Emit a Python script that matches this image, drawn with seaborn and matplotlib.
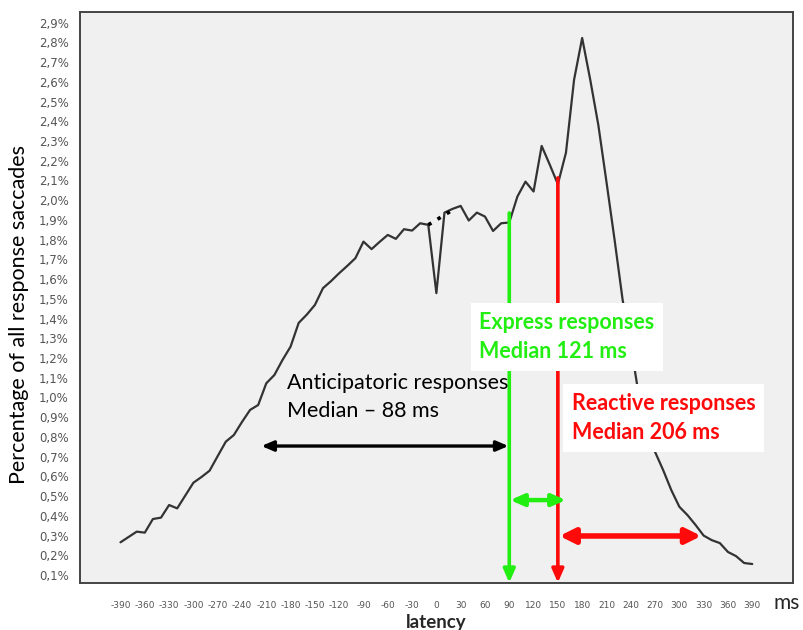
import matplotlib
matplotlib.use('Agg')
import matplotlib.pyplot as plt
import matplotlib.ticker as mticker
import numpy as np
import pandas as pd
import seaborn as sns

# latency bins (ms) and share of all response saccades (%)
latency = list(range(-390, 400, 10))
percent = [0.266, 0.293, 0.320, 0.315, 0.384, 0.391, 0.455, 0.438, 0.503, 0.568,
           0.597, 0.629, 0.703, 0.776, 0.810, 0.876, 0.937, 0.962, 1.072, 1.114,
           1.190, 1.258, 1.378, 1.420, 1.469, 1.554, 1.590, 1.630, 1.667, 1.706,
           1.790, 1.752, 1.789, 1.824, 1.804, 1.853, 1.846, 1.883, 1.875, 1.529,
           1.937, 1.956, 1.971, 1.897, 1.937, 1.917, 1.844, 1.883, 1.887, 2.018,
           2.094, 2.044, 2.275, 2.180, 2.081, 2.241, 2.610, 2.822, 2.610, 2.380,
           2.093, 1.800, 1.494, 1.266, 1.010, 0.845, 0.724, 0.632, 0.531, 0.446,
           0.404, 0.354, 0.300, 0.277, 0.262, 0.217, 0.196, 0.161, 0.156]

# bridge drawn over the dip at 0 ms
bridge_x = [-10, 20]
bridge_y = [1.875, 1.950]

xticks = list(range(-390, 391, 30))
yticks = [round(0.1 * i, 1) for i in range(1, 30)]

express_ms = 90
reactive_ms = 150
express_top = 1.935
reactive_top = 2.113

df = pd.DataFrame({'latency': latency, 'percent': percent})

sns.set_style('white')
plt.rcParams['font.family'] = ['Lato', 'DejaVu Sans']
plt.rcParams['axes.unicode_minus'] = False

fig = plt.figure(figsize=(8.04, 6.3), dpi=100)
ax = fig.add_axes([0.0995, 0.075, 0.8865, 0.906])
ax.set_facecolor('#f0f0f0')

sns.lineplot(data=df, x='latency', y='percent', ax=ax, color='#333333', linewidth=1.6)
ax.plot(bridge_x, bridge_y, color='black', linestyle=(0, (1, 2)), linewidth=2.6)

ax.set_xlim(-440, 440)
ax.set_ylim(0.061, 2.954)
ax.set_xticks(xticks)
ax.set_xticklabels([str(t) for t in xticks])
ax.set_yticks(yticks)
ax.yaxis.set_major_formatter(mticker.FuncFormatter(lambda v, p: f'{v:.1f}%'.replace('.', ',')))
ax.tick_params(axis='y', length=7, width=1.4, color='#444444', labelsize=8.5,
               labelcolor='#555555', pad=1)
ax.tick_params(axis='x', length=9, width=1.4, color='#444444', labelsize=6.5,
               labelcolor='#555555', pad=4)
for lab in ax.get_yticklabels():
    lab.set_family('DejaVu Sans')
for lab in ax.get_xticklabels():
    lab.set_family(['Liberation Sans Narrow', 'DejaVu Sans'])
for sp in ax.spines.values():
    sp.set_color('#444444')
    sp.set_linewidth(1.4)

ax.set_ylabel('Percentage of all response saccades', fontsize=15.5, color='black')
ax.yaxis.set_label_coords(-0.071, 0.47)
ax.set_xlabel('latency', fontsize=13.5, fontweight='bold', labelpad=3)
fig.text(0.962, 0.043, 'ms', fontsize=15, ha='left', va='center')

green = '#22ee11'
red = '#ff0a0a'

# vertical markers with arrow at the axis
ax.annotate('', xy=(express_ms, 0.061), xytext=(express_ms, express_top),
            arrowprops=dict(arrowstyle='-|>,head_length=0.8,head_width=0.35', color=green,
                            lw=2.6, shrinkA=0, shrinkB=0))
ax.annotate('', xy=(reactive_ms, 0.061), xytext=(reactive_ms, reactive_top),
            arrowprops=dict(arrowstyle='-|>,head_length=0.8,head_width=0.35', color=red,
                            lw=2.6, shrinkA=0, shrinkB=0))

# range arrows
ax.annotate('', xy=(-216, 0.754), xytext=(89, 0.754),
            arrowprops=dict(arrowstyle='<|-|>,head_length=0.7,head_width=0.3', color='black',
                            lw=2.4, shrinkA=0, shrinkB=0))
ax.annotate('', xy=(91, 0.48), xytext=(160, 0.48),
            arrowprops=dict(arrowstyle='<|-|>,head_length=0.8,head_width=0.35', color=green,
                            lw=3.2, shrinkA=0, shrinkB=0))
ax.annotate('', xy=(152, 0.298), xytext=(327, 0.298),
            arrowprops=dict(arrowstyle='<|-|>,head_length=0.9,head_width=0.45', color=red,
                            lw=4.0, shrinkA=0, shrinkB=0))

ax.text(-184, 1.0, 'Anticipatoric responses\nMedian \u2013 88 ms', fontsize=15.5,
        ha='left', va='center', linespacing=1.5, color='black')
ax.text(53, 1.307, 'Express responses\nMedian 121 ms', fontsize=15.5, fontweight='bold',
        ha='left', va='center', linespacing=1.5, color=green,
        bbox=dict(facecolor='white', edgecolor='none', pad=6))
ax.text(167, 0.896, 'Reactive responses\nMedian 206 ms', fontsize=15.5, fontweight='bold',
        ha='left', va='center', linespacing=1.5, color=red,
        bbox=dict(facecolor='white', edgecolor='none', pad=6.5))

fig.savefig('out.png', dpi=100)
